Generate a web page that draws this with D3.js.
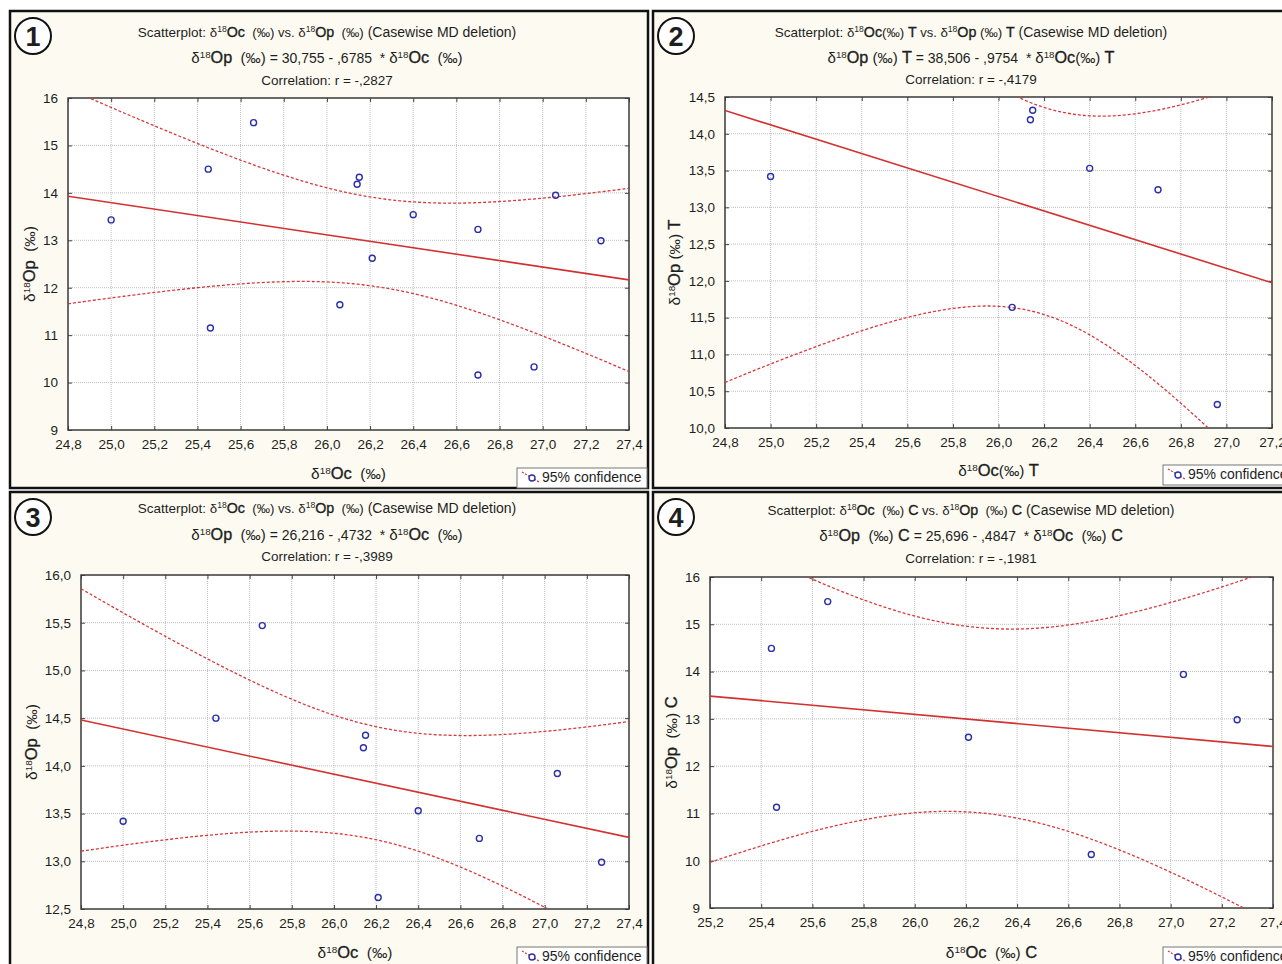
<!DOCTYPE html>
<html>
<head>
<meta charset="utf-8">
<script src="https://cdn.jsdelivr.net/npm/d3@7"></script>
<style>
  html, body { margin: 0; padding: 0; background: #fff; }
  svg text { white-space: pre; fill: #1e1e1e; }
</style>
</head>
<body>
<svg id="chart" width="1282" height="964"></svg>
<script>
const oc1 = [25.00, 25.45, 25.46, 25.66, 26.06, 26.14, 26.15, 26.21, 26.40, 26.70, 26.70, 26.96, 27.06, 27.27];
const op1 = [13.43, 14.50, 11.15, 15.48, 11.64, 14.18, 14.33, 12.62, 13.54, 13.23, 10.16, 10.33, 13.95, 12.99];
const oc2 = [25.00, 26.14, 26.15, 26.06, 26.40, 26.70, 26.96];
const op2 = [13.42, 14.19, 14.32, 11.64, 13.53, 13.24, 10.32];
const oc3 = [25.00, 25.44, 25.66, 26.14, 26.15, 26.21, 26.40, 26.69, 27.06, 27.27];
const op3 = [13.42, 14.50, 15.47, 14.19, 14.32, 12.62, 13.53, 13.24, 13.92, 12.99];
const oc4 = [25.44, 25.46, 25.66, 26.21, 26.69, 27.05, 27.26];
const op4 = [14.49, 11.13, 15.48, 12.61, 10.13, 13.94, 12.98];

const intercepts = [30.755, 38.506, 26.216, 25.696];
const slopes     = [-0.6785, -0.9754, -0.4732, -0.4847];
const corrLabels = ["-,2827", "-,4179", "-,3989", "-,1981"];
const tCrit      = [2.179, 2.571, 2.306, 2.571];   // t(0.975, n-2)

const xTicksA = [24.8, 25.0, 25.2, 25.4, 25.6, 25.8, 26.0, 26.2, 26.4, 26.6, 26.8, 27.0, 27.2, 27.4];
const xTicksB = [24.8, 25.0, 25.2, 25.4, 25.6, 25.8, 26.0, 26.2, 26.4, 26.6, 26.8, 27.0, 27.2];
const xTicksC = [25.2, 25.4, 25.6, 25.8, 26.0, 26.2, 26.4, 26.6, 26.8, 27.0, 27.2, 27.4];
const yTicksA = [9, 10, 11, 12, 13, 14, 15, 16];
const yTicksB = [10.0, 10.5, 11.0, 11.5, 12.0, 12.5, 13.0, 13.5, 14.0, 14.5];
const yTicksC = [12.5, 13.0, 13.5, 14.0, 14.5, 15.0, 15.5, 16.0];

const panelNumbers = ["1", "2", "3", "4"];
const suffixes     = ["", "T", "", "C"];
const ocSpace      = ["  ", "", "  ", "  "];
const opSpace      = ["  ", " ", "  ", "  "];

// ---- layout (pixels) ----
const F_N = '"Liberation Sans Narrow", "Arial Narrow", "Liberation Sans", sans-serif';
const F_W = '"Liberation Sans", Arial, sans-serif';

const panels = [
  { oc: oc1, op: op1, xt: xTicksA, yt: yTicksA, yFmt: "d",
    box: [10, 11, 638, 477], plot: [68, 629, 98, 430], ty: [37, 63, 85], xly: 479, ylx: 35, badge: [33, 36], legend: [517, 468] },
  { oc: oc2, op: op2, xt: xTicksB, yt: yTicksB, yFmt: ".1f",
    box: [653, 11, 640, 477], plot: [725, 1272, 97, 428], ty: [37, 63, 84], xly: 476, ylx: 680, badge: [676, 36], legend: [1163, 465] },
  { oc: oc3, op: op3, xt: xTicksA, yt: yTicksC, yFmt: ".1f",
    box: [10, 492, 638, 480], plot: [81, 629, 575, 909], ty: [513, 540, 561], xly: 958, ylx: 37, badge: [33, 517], legend: [517, 947] },
  { oc: oc4, op: op4, xt: xTicksC, yt: yTicksA, yFmt: "d",
    box: [653, 492, 640, 480], plot: [710, 1273, 577, 908], ty: [515, 541, 563], xly: 958, ylx: 677, badge: [676, 517], legend: [1163, 947] }
];

const svg = d3.select("#chart");
const comma = f => v => d3.format(f)(v).replace(".", ",");

// rich text: parts = [text, fontKey, size, sup?]
function rich(g, x, y, parts, anchor = "middle") {
  const t = g.append("text").attr("x", x).attr("y", y).attr("text-anchor", anchor);
  let shift = 0;
  parts.forEach(([txt, f, size, sup]) => {
    const want = sup ? -size * 0.55 : 0;
    const ts = t.append("tspan")
      .attr("dy", want - shift)
      .attr("font-family", f === "w" ? F_W : F_N)
      .attr("font-size", size)
      .text(txt);
    // the "Oc"/"Op"/"T"/"C" glyphs read a touch heavier in the original
    if (f === "w") ts.attr("stroke", "#1e1e1e").attr("stroke-width", 0.35);
    shift = want;
  });
  return t;
}

function varLabel(v, i, k) {
  const sp = v === "c" ? ocSpace[i] : opSpace[i];
  const parts = [
    ["δ", "n", 14 * k], ["18", "n", 9 * k, true], ["O" + v, "w", 15 * k],
    [sp + "(‰)", "n", 14 * k]
  ];
  if (suffixes[i]) parts.push([" " + suffixes[i], "w", 15 * k]);
  return parts;
}

panels.forEach((p, i) => {
  const [bx, by, bw, bh] = p.box;
  const [pl, pr, pt, pb] = p.plot;
  const g = svg.append("g");

  // 1) Panel frame
  g.append("rect").attr("x", bx).attr("y", by).attr("width", bw).attr("height", bh)
    .attr("fill", "#fdfbf1").attr("stroke", "#111").attr("stroke-width", 2.5);

  // 2) Scales
  const x = d3.scaleLinear().domain(d3.extent(p.xt)).range([pl, pr]);
  const y = d3.scaleLinear().domain(d3.extent(p.yt)).range([pb, pt]);

  g.append("rect").attr("x", pl).attr("y", pt).attr("width", pr - pl).attr("height", pb - pt)
    .attr("fill", "#fff");

  // 3) Grid
  g.append("g").selectAll("line").data(p.xt.slice(1, -1)).join("line")
    .attr("x1", d => x(d)).attr("x2", d => x(d)).attr("y1", pt).attr("y2", pb)
    .attr("stroke", "#bdbdbd").attr("stroke-width", 1).attr("stroke-dasharray", "1,1");
  g.append("g").selectAll("line").data(p.yt.slice(1, -1)).join("line")
    .attr("x1", pl).attr("x2", pr).attr("y1", d => y(d)).attr("y2", d => y(d))
    .attr("stroke", "#bdbdbd").attr("stroke-width", 1).attr("stroke-dasharray", "1,1");

  // 4) Axes (inward ticks on all four sides)
  const tick = 4;
  g.append("g").attr("transform", `translate(0,${pb})`)
    .call(d3.axisBottom(x).tickValues(p.xt).tickSize(-tick).tickPadding(9).tickFormat(comma(".1f")));
  g.append("g").attr("transform", `translate(0,${pt})`)
    .call(d3.axisTop(x).tickValues(p.xt).tickSize(-tick).tickFormat(""));
  g.append("g").attr("transform", `translate(${pl},0)`)
    .call(d3.axisLeft(y).tickValues(p.yt).tickSize(-tick).tickPadding(10).tickFormat(comma(p.yFmt)));
  g.append("g").attr("transform", `translate(${pr},0)`)
    .call(d3.axisRight(y).tickValues(p.yt).tickSize(-tick).tickFormat(""));
  g.selectAll(".domain").remove();
  g.selectAll(".tick line").attr("stroke", "#444");
  g.selectAll(".tick text").attr("font-family", F_N).attr("font-size", 13.5).attr("fill", "#1e1e1e");

  g.append("rect").attr("x", pl).attr("y", pt).attr("width", pr - pl).attr("height", pb - pt)
    .attr("fill", "none").attr("stroke", "#3a3a3a").attr("stroke-width", 1.5);

  // 5) Regression line + 95% confidence band
  const clipId = "clip" + i;
  g.append("clipPath").attr("id", clipId).append("rect")
    .attr("x", pl).attr("y", pt).attr("width", pr - pl).attr("height", pb - pt);
  const a = intercepts[i], b = slopes[i];
  const n = p.oc.length;
  const xm = d3.mean(p.oc);
  const sxx = d3.sum(p.oc, v => (v - xm) ** 2);
  const sse = d3.sum(p.oc, (v, k) => (p.op[k] - (a + b * v)) ** 2);
  const s = Math.sqrt(sse / (n - 2));
  const xs = d3.range(121).map(k => x.domain()[0] + (x.domain()[1] - x.domain()[0]) * k / 120);
  const hw = v => tCrit[i] * s * Math.sqrt(1 / n + (v - xm) ** 2 / sxx);
  const line = d3.line().x(d => x(d[0])).y(d => y(d[1]));
  const lines = g.append("g").attr("clip-path", `url(#${clipId})`);
  lines.append("path").datum(xs.map(v => [v, a + b * v + hw(v)])).attr("d", line)
    .attr("fill", "none").attr("stroke", "#d9383a").attr("stroke-width", 1.3).attr("stroke-dasharray", "3,2");
  lines.append("path").datum(xs.map(v => [v, a + b * v - hw(v)])).attr("d", line)
    .attr("fill", "none").attr("stroke", "#d9383a").attr("stroke-width", 1.3).attr("stroke-dasharray", "3,2");
  lines.append("path").datum(x.domain().map(v => [v, a + b * v])).attr("d", line)
    .attr("fill", "none").attr("stroke", "#d33030").attr("stroke-width", 1.6);

  // 6) Points
  g.append("g").selectAll("circle").data(p.oc.map((v, k) => [v, p.op[k]])).join("circle")
    .attr("cx", d => x(d[0])).attr("cy", d => y(d[1])).attr("r", 3)
    .attr("fill", "none").attr("stroke", "#2b2fa8").attr("stroke-width", 1.4);

  // 7) Titles
  const cx = bx + bw / 2 - 2;
  rich(g, cx, p.ty[0], [["Scatterplot: ", "n", 13.5], ...varLabel("c", i, 0.95), [" vs. ", "n", 13],
    ...varLabel("p", i, 0.95), [" (Casewise MD deletion)", "n", 14]]);
  rich(g, cx, p.ty[1], [...varLabel("p", i, 1.08),
    [` = ${a.toFixed(3).replace(".", ",")} - ${Math.abs(b).toFixed(4).replace("0.", ",")}  * `, "n", 14],
    ...varLabel("c", i, 1.08)]);
  rich(g, cx, p.ty[2], [["Correlation: r = " + corrLabels[i], "n", 13.5]]);

  // 8) Axis titles
  rich(g, (pl + pr) / 2, p.xly, varLabel("c", i, 1.1));
  rich(g, 0, 0, varLabel("p", i, 1.1))
    .attr("transform", `translate(${p.ylx},${(pt + pb) / 2}) rotate(-90)`);

  // 9) Legend
  const [lx, ly] = p.legend;
  g.append("rect").attr("x", lx).attr("y", ly).attr("width", 130).attr("height", 20)
    .attr("fill", "#fff").attr("stroke", "#777").attr("stroke-width", 1);
  g.append("line").attr("x1", lx + 5).attr("y1", ly + 4).attr("x2", lx + 22).attr("y2", ly + 14)
    .attr("stroke", "#d9383a").attr("stroke-width", 1.3).attr("stroke-dasharray", "2,1.5");
  g.append("circle").attr("cx", lx + 15).attr("cy", ly + 10).attr("r", 3)
    .attr("fill", "#fff").attr("stroke", "#2b2fa8").attr("stroke-width", 1.4);
  rich(g, lx + 25, ly + 14, [["95% confidence", "n", 14]], "start");

  // 10) Panel number badge
  const [cxB, cyB] = p.badge;
  g.append("circle").attr("cx", cxB).attr("cy", cyB).attr("r", 18)
    .attr("fill", "#fff").attr("stroke", "#111").attr("stroke-width", 2);
  g.append("text").attr("x", cxB).attr("y", cyB + 9.5).attr("text-anchor", "middle")
    .attr("font-family", F_W).attr("font-weight", "bold").attr("font-size", 27)
    .text(panelNumbers[i]);
});
</script>
</body>
</html>
